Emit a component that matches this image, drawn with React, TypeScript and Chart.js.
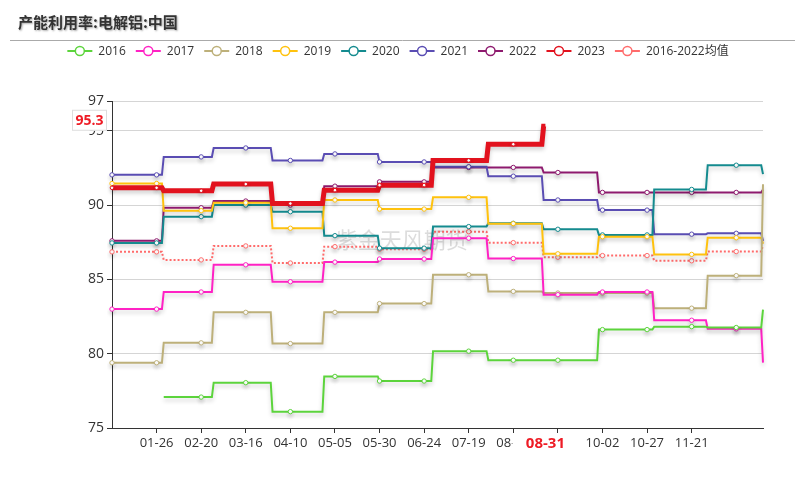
import React, { useEffect, useRef } from 'react';
import { Chart, registerables } from 'chart.js';

Chart.register(...registerables);

// ---------- data ----------
const chartTitle = '产能利用率:电解铝:中国';
const watermark = '紫金天风期货';

// leap-year calendar used for the daily category axis
const monthLengths = [31, 29, 31, 30, 31, 30, 31, 31, 30, 31, 30, 31];
// day index on which each month's value takes effect (release dates)
const changeDays = [0, 29, 57, 90, 119, 150, 180, 211, 242, 273, 304, 334];

const tickDays = [25, 50, 75, 100, 125, 150, 175, 200, 225, 250, 275, 300, 325];
const tickLabels = ['01-26', '02-20', '03-16', '04-10', '05-05', '05-30', '06-24', '07-19', '08-13', '09-07', '10-02', '10-27', '11-21'];
const yTicks = [75, 80, 85, 90, 95, 97];

const seriesNames = ['2016', '2017', '2018', '2019', '2020', '2021', '2022', '2023', '2016-2022均值'];

const v2016 = [null, 77.08, 78.05, 76.1, 78.47, 78.16, 80.17, 79.56, 79.56, 81.62, 81.82, 81.76];
const v2017 = [83.0, 84.15, 85.98, 84.84, 86.16, 86.37, 87.77, 86.4, 83.97, 84.15, 82.25, 81.67];
const v2018 = [79.39, 80.73, 82.78, 80.68, 82.78, 83.37, 85.31, 84.19, 84.08, 84.08, 83.06, 85.25];
const v2019 = [91.45, 89.62, 90.15, 88.44, 90.34, 89.73, 90.52, 88.75, 86.72, 87.87, 86.68, 87.8];
const v2020 = [87.45, 89.22, 90.0, 89.55, 87.94, 87.1, 88.55, 88.77, 88.37, 87.99, 91.05, 92.68];
const v2021 = [92.03, 93.24, 93.84, 93.0, 93.44, 92.9, 92.58, 91.94, 90.34, 89.66, 88.04, 88.1];
const v2022 = [87.59, 89.82, 90.27, 90.0, 91.27, 91.56, 92.53, 92.53, 92.19, 90.85, 90.85, 90.85];
const v2023 = [91.16, 90.96, 91.41, 90.1, 91.0, 91.34, 93.0, 94.09, 95.3];
const vAvg = [86.85, 86.31, 87.25, 86.1, 87.2, 87.03, 88.21, 87.47, 86.49, 86.6, 86.25, 86.87];

// value on the last day of the year
const yearEnd = [82.96, 79.4, 91.4, 87.4, 92.08, 87.59, 91.05, null, 87.3];
const lastDay2023 = '08-31';

const colors = ['#5cd43c', '#ff22c4', '#bdb07a', '#ffc20e', '#148b8f', '#5a4db3', '#8e1a6e', '#e2121e', '#ff6b6b'];

// ---------- helpers ----------
const pad = (n: number) => (n < 10 ? '0' + n : '' + n);
const dayLabels: string[] = [];
monthLengths.forEach((len, m) => {
  for (let d = 1; d <= len; d++) dayLabels.push(pad(m + 1) + '-' + pad(d));
});

function expand(monthly: (number | null)[], endValue: number | null, lastLabel?: string) {
  const lastIdx = lastLabel ? dayLabels.indexOf(lastLabel) : dayLabels.length - 1;
  const out: (number | null)[] = [];
  for (let d = 0; d < dayLabels.length; d++) {
    let m = 0;
    for (let i = 0; i < changeDays.length; i++) if (changeDays[i] <= d) m = i;
    let v: number | null = m < monthly.length ? monthly[m] : null;
    if (d === dayLabels.length - 1 && endValue != null) v = endValue;
    if (d > lastIdx) v = null;
    out.push(v);
  }
  return out;
}

const FONT = "'Open Sans', 'Noto Sans CJK SC', sans-serif";

const decorPlugin = {
  id: 'decor',
  beforeDatasetsDraw(chart: any) {
    const ctx = chart.ctx;
    const a = chart.chartArea;
    ctx.save();
    ctx.font = `22px 'Noto Sans CJK SC', sans-serif`;
    ctx.fillStyle = 'rgba(150,150,150,0.33)';
    ctx.textAlign = 'center';
    ctx.textBaseline = 'middle';
    ctx.fillText(watermark, a.left + (a.right - a.left) * 0.445, a.top + (a.bottom - a.top) * 0.425);
    ctx.restore();
  },
  beforeDatasetDraw(chart: any) {
    const ctx = chart.ctx;
    ctx.save();
    ctx.shadowColor = 'rgba(0,0,0,0.18)';
    ctx.shadowBlur = 4;
    ctx.shadowOffsetY = 3;
  },
  afterDatasetDraw(chart: any) {
    chart.ctx.restore();
  },
  afterDraw(chart: any) {
    const ctx = chart.ctx;
    const W = chart.width;
    ctx.save();
    // title
    ctx.font = `bold 15px 'Noto Sans CJK SC', sans-serif`;
    ctx.textBaseline = 'middle';
    ctx.textAlign = 'left';
    ctx.shadowColor = 'rgba(0,0,0,0.35)';
    ctx.shadowBlur = 2;
    ctx.shadowOffsetX = 1;
    ctx.shadowOffsetY = 1;
    ctx.fillStyle = '#333';
    ctx.fillText(chartTitle, 18, 22);
    ctx.shadowColor = 'transparent';
    // separator
    ctx.strokeStyle = '#aaa';
    ctx.lineWidth = 1;
    ctx.beginPath();
    ctx.moveTo(10, 40.5);
    ctx.lineTo(W - 11, 40.5);
    ctx.stroke();
    // legend
    ctx.font = `12px ${FONT}`;
    const iconW = 25, gapIcon = 6, gapItem = 10;
    const ds = chart.data.datasets;
    const widths = ds.map((d: any) => iconW + gapIcon + ctx.measureText(d.label).width);
    const total = widths.reduce((s: number, w: number) => s + w, 0) + gapItem * (ds.length - 1);
    let x = 398 - total / 2;
    const ly = 51;
    ds.forEach((d: any, i: number) => {
      ctx.strokeStyle = d.borderColor;
      ctx.lineWidth = 2;
      ctx.beginPath();
      ctx.moveTo(x, ly);
      ctx.lineTo(x + iconW, ly);
      ctx.stroke();
      ctx.beginPath();
      ctx.arc(x + iconW / 2, ly, 4.5, 0, Math.PI * 2);
      ctx.fillStyle = '#fff';
      ctx.fill();
      ctx.lineWidth = 1.5;
      ctx.stroke();
      ctx.fillStyle = '#333';
      ctx.textAlign = 'left';
      ctx.fillText(d.label, x + iconW + gapIcon, ly + 0.5);
      x += widths[i] + gapItem;
    });
    // axis pointer labels for the latest 2023 value
    const xs = chart.scales.x;
    const ys = chart.scales.y;
    const a = chart.chartArea;
    const lastVal = v2023[v2023.length - 1];
    const txt = lastVal.toFixed(1);
    ctx.font = `bold 14px ${FONT}`;
    const ty = ys.getPixelForValue(lastVal) - 6;
    const bw = 35, bh = 21;
    ctx.fillStyle = '#fff';
    ctx.fillRect(a.left - 5 - bw, ty - bh / 2, bw, bh);
    ctx.strokeStyle = '#ddd';
    ctx.lineWidth = 1;
    ctx.strokeRect(a.left - 5 - bw + 0.5, ty - bh / 2 + 0.5, bw - 1, bh - 1);
    ctx.fillStyle = '#ee1c25';
    ctx.textAlign = 'center';
    ctx.textBaseline = 'middle';
    ctx.fillText(txt, a.left - 5 - bw / 2, ty + 1);

    const cx = xs.getPixelForValue(dayLabels.indexOf(lastDay2023));
    ctx.font = `bold 15px ${FONT}`;
    ctx.fillStyle = '#fff';
    ctx.fillRect(cx - 33, a.bottom + 5, 66, 22);
    ctx.fillStyle = '#ee1c25';
    ctx.fillText(lastDay2023, cx, a.bottom + 15.5);
    ctx.restore();
  },
};

export default function App() {
  const ref = useRef<HTMLCanvasElement | null>(null);

  useEffect(() => {
    if (!ref.current) return;
    const monthlySets = [v2016, v2017, v2018, v2019, v2020, v2021, v2022, v2023, vAvg];
    const datasets = monthlySets.map((vals, i) => {
      const is2023 = i === 7;
      const isAvg = i === 8;
      return {
        label: seriesNames[i],
        data: expand(vals, yearEnd[i], is2023 ? lastDay2023 : undefined),
        borderColor: colors[i],
        backgroundColor: '#fff',
        borderWidth: is2023 ? 5 : 2,
        borderDash: isAvg ? [2, 2] : [],
        pointRadius: (c: any) => (c.dataIndex % 25 === 0 ? (is2023 ? 1.8 : 2.2) : 0),
        pointBackgroundColor: '#fff',
        pointBorderColor: colors[i],
        pointBorderWidth: 1,
        tension: 0,
        spanGaps: false,
        order: is2023 ? -1 : i,
      };
    });

    const chart = new Chart(ref.current, {
      type: 'line',
      data: { labels: dayLabels, datasets },
      plugins: [decorPlugin],
      options: {
        animation: false,
        responsive: true,
        maintainAspectRatio: false,
        events: [],
        layout: { padding: { top: 101, right: 43, bottom: 0, left: 0 } },
        plugins: { legend: { display: false }, tooltip: { enabled: false } },
        scales: {
          x: {
            type: 'category',
            offset: false,
            grid: { drawOnChartArea: false, drawTicks: true, tickLength: 5, tickColor: '#333' },
            border: { display: true, color: '#333' },
            ticks: {
              autoSkip: false,
              maxRotation: 0,
              minRotation: 0,
              color: '#333',
              padding: 2,
              font: { size: 13, family: FONT },
              callback: (value: any) => {
                const k = tickDays.indexOf(Number(value));
                return k >= 0 ? tickLabels[k] : '';
              },
            },
            afterBuildTicks: (scale: any) => {
              scale.ticks = tickDays.map((v) => ({ value: v }));
            },
            afterFit: (scale: any) => {
              scale.height = 62;
            },
          },
          y: {
            type: 'linear',
            min: 75,
            max: 97,
            grid: { color: '#d5d5d5', tickLength: 5, tickColor: '#333' },
            border: { display: true, color: '#333' },
            ticks: { color: '#333', padding: 3, font: { size: 14, family: FONT } },
            afterBuildTicks: (scale: any) => {
              scale.ticks = yTicks.map((v) => ({ value: v }));
            },
            afterFit: (scale: any) => {
              scale.width = 112;
            },
          },
        },
      } as any,
    });
    return () => chart.destroy();
  }, []);

  return (
    <div style={{ position: 'absolute', left: 0, top: 0, width: 806, height: 490, background: '#fff' }}>
      <canvas ref={ref} />
    </div>
  );
}
